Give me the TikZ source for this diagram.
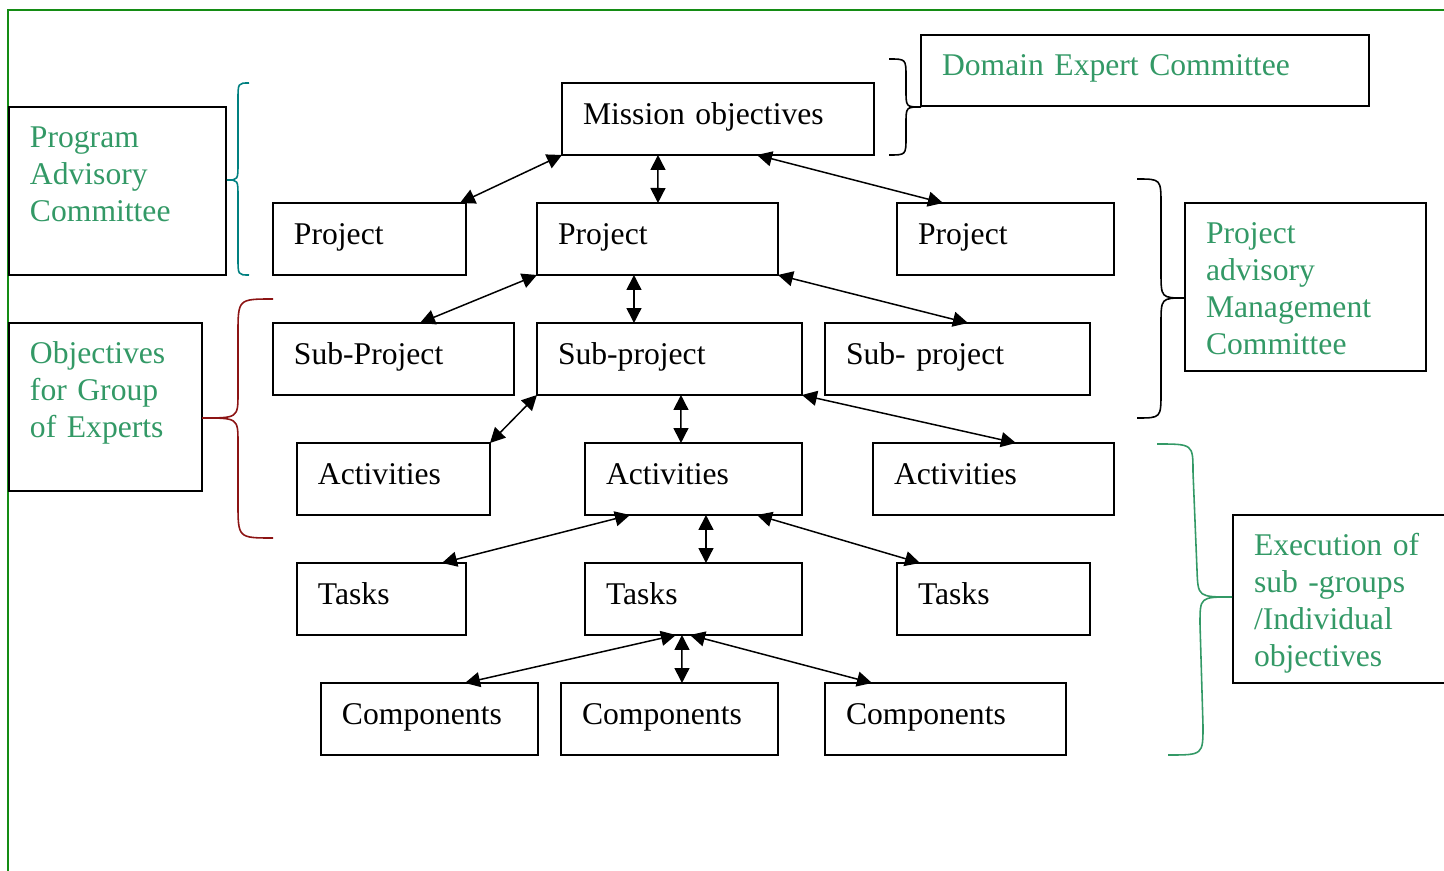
\documentclass[tikz,border=0pt]{standalone}
\usepackage{fontspec}
\setmainfont{Liberation Serif}
\usetikzlibrary{arrows.meta}

\definecolor{seagreen}{RGB}{51,153,102}
\definecolor{framegreen}{RGB}{20,140,20}
\definecolor{braceteal}{RGB}{0,128,128}
\definecolor{bracered}{RGB}{140,20,20}

\tikzset{
  every node/.style={font=\fontsize{18}{21}\selectfont},
  box/.style={draw, line width=1.1pt, rectangle, anchor=north west, align=left, outer sep=0pt,
    inner xsep=0.42cm, inner ysep=0pt, text height=0.84cm, text depth=0.60cm},
  notebox/.style={box, text=seagreen, text height=0.82cm, text depth=2.54cm},
  link/.style={{Triangle[length=0.3cm,width=0.3cm]}-{Triangle[length=0.3cm,width=0.3cm]}, line width=0.85pt},
  bracket/.style={line width=0.9pt}
}

\begin{document}
\begin{tikzpicture}[x=0.02cm, y=-0.02cm]

        \useasboundingbox (0,0) rectangle (1444,871);

        %Green frame round the page
        \draw [framegreen, line width=1.1pt] (8,871) -- (8,10) -- (1460,10);

        %Committees
        \node[notebox, text width=8.12cm, text depth=0.60cm] (domain) at (921,35) {Domain Expert Committee};
        \node[notebox, text width=3.50cm] (program) at (9,107) {Program\\Advisory\\Committee};
        \node[notebox, text width=3.02cm] (groups) at (9,323) {Objectives\\for Group\\of Experts};
        \node[notebox, text width=3.98cm] (pamc) at (1185,203) {Project\\advisory\\Management\\Committee};
        \node[notebox, text width=3.98cm] (execution) at (1233,515) {Execution of\\sub -groups\\/Individual\\objectives};

        %Mission
        \node[box, text width=5.40cm] (mission) at (562,83) {Mission objectives};

        %Projects
        \node[box, text width=3.02cm] (projA) at (273,203) {Project};
        \node[box, text width=3.98cm] (projB) at (537,203) {Project};
        \node[box, text width=3.50cm] (projC) at (897,203) {Project};

        %Sub projects
        \node[box, text width=3.98cm] (subA) at (273,323) {Sub-Project};
        \node[box, text width=4.46cm] (subB) at (537,323) {Sub-project};
        \node[box, text width=4.46cm] (subC) at (825,323) {Sub- project};

        %Activities
        \node[box, text width=3.02cm] (actA) at (297,443) {Activities};
        \node[box, text width=3.50cm] (actB) at (585,443) {Activities};
        \node[box, text width=3.98cm] (actC) at (873,443) {Activities};

        %Tasks
        \node[box, text width=2.54cm] (taskA) at (297,563) {Tasks};
        \node[box, text width=3.50cm] (taskB) at (585,563) {Tasks};
        \node[box, text width=3.02cm] (taskC) at (897,563) {Tasks};

        %Components
        \node[box, text width=3.50cm] (compA) at (321,683) {Components};
        \node[box, text width=3.50cm] (compB) at (561,683) {Components};
        \node[box, text width=3.98cm] (compC) at (825,683) {Components};

        %Mission to projects
        \draw [link] (mission.south west) -- ([xshift=-0.12cm]projA.north east);
        \draw [link] ([xshift=1.92cm]mission.south west) -- ([xshift=2.42cm]projB.north west);
        \draw [link] ([xshift=3.90cm]mission.south west) -- ([xshift=0.92cm]projC.north west);

        %Project to sub projects
        \draw [link] (projB.south west) -- ([xshift=2.94cm]subA.north west);
        \draw [link] ([xshift=1.94cm]projB.south west) -- ([xshift=1.94cm]subB.north west);
        \draw [link] (projB.south east) -- ([xshift=2.86cm]subC.north west);

        %Sub project to activities
        \draw [link] (subB.south west) -- (actA.north east);
        \draw [link] ([xshift=2.88cm]subB.south west) -- ([xshift=1.92cm]actB.north west);
        \draw [link] (subB.south east) -- ([xshift=2.86cm]actC.north west);

        %Activities to tasks
        \draw [link] ([xshift=0.90cm]actB.south west) -- ([xshift=2.90cm]taskA.north west);
        \draw [link] ([xshift=2.42cm]actB.south west) -- ([xshift=2.42cm]taskB.north west);
        \draw [link] ([xshift=3.44cm]actB.south west) -- ([xshift=0.46cm]taskC.north west);

        %Tasks to components
        \draw [link] ([xshift=1.82cm]taskB.south west) -- ([xshift=2.88cm]compA.north west);
        \draw [link] ([xshift=1.94cm]taskB.south west) -- ([xshift=2.42cm]compB.north west);
        \draw [link] ([xshift=2.10cm]taskB.south west) -- ([xshift=0.94cm]compC.north west);

        %Braces
        \draw [bracket] (889,59) .. controls (906,59) .. (906,77) -- (906,90) .. controls (906,107) .. (921,107)
              .. controls (906,107) .. (906,124) -- (906,137) .. controls (906,155) .. (889,155); %domain
        \draw [bracket, braceteal] (249,83) .. controls (238,83) .. (238,100) -- (238,163) .. controls (238,180) .. (227,180)
              .. controls (238,180) .. (238,197) -- (238,258) .. controls (238,275) .. (249,275); %program
        \draw [bracket, bracered] (273,299) .. controls (238,299) .. (238,334) -- (238,393) .. controls (238,418) .. (202,418)
              .. controls (238,418) .. (238,443) -- (238,503) .. controls (238,538) .. (273,538); %groups
        \draw [bracket] (1137,179) .. controls (1161,179) .. (1161,205) -- (1161,272) .. controls (1161,298) .. (1185,298)
              .. controls (1161,298) .. (1161,324) -- (1161,392) .. controls (1161,418) .. (1137,418); %pamc
        \draw [bracket, seagreen] (1157,444) .. controls (1193,444) .. (1193,472) -- (1197,570) .. controls (1198,597) .. (1232,597)
              .. controls (1200,597) .. (1200,624) -- (1203,726) .. controls (1203,755) .. (1168,755); %execution

    \end{tikzpicture}
\end{document}
